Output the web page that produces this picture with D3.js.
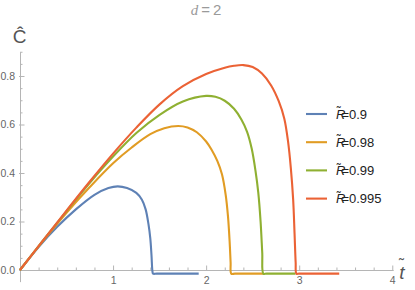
<!DOCTYPE html>
<html lang="en">
<head>
<meta charset="UTF-8">
<title>d=2</title>
<script src="https://cdn.jsdelivr.net/npm/d3@7"></script>
<style>
    body { margin: 0; background: #fff; }
    svg { display: block; font-family: "Liberation Sans", Arial, sans-serif; }
    .axis path, .axis line { stroke: #b5b5b5; }
    .axis text { fill: #666; font-size: 10.5px; }
</style>
</head>
<body>
<svg id="chart" width="415" height="290"></svg>
<script>
// series: t values and C values
let t09 = [0, 0.2, 0.4, 0.6, 0.8, 0.95, 1.05, 1.15, 1.25, 1.31, 1.35, 1.38, 1.4, 1.413, 1.423, 1.43, 1.47, 1.92];
let c09 = [0, 0.095, 0.178, 0.25, 0.31, 0.338, 0.345, 0.338, 0.318, 0.29, 0.25, 0.19, 0.13, 0.06, -0.005, -0.015, -0.015, -0.015];

let t098 = [0, 0.25, 0.5, 0.75, 1.0, 1.2, 1.4, 1.55, 1.7, 1.8, 1.9, 2.0, 2.06, 2.12, 2.17, 2.21, 2.235, 2.252, 2.263, 2.27, 2.31, 2.62];
let c098 = [0, 0.121, 0.236, 0.342, 0.44, 0.505, 0.56, 0.585, 0.594, 0.588, 0.568, 0.53, 0.495, 0.45, 0.395, 0.31, 0.22, 0.12, 0.03, -0.015, -0.015, -0.015];

let t099 = [0, 0.25, 0.5, 0.75, 1.0, 1.25, 1.5, 1.75, 2.0, 2.1, 2.2, 2.3, 2.38, 2.44, 2.49, 2.53, 2.56, 2.585, 2.603, 2.615, 2.65, 2.96];
let c099 = [0, 0.123, 0.243, 0.36, 0.468, 0.565, 0.64, 0.695, 0.718, 0.714, 0.698, 0.665, 0.62, 0.57, 0.5, 0.41, 0.32, 0.2, 0.07, -0.015, -0.015, -0.015];

let t0995 = [0, 0.25, 0.5, 0.75, 1.0, 1.25, 1.5, 1.75, 2.0, 2.2, 2.3, 2.4, 2.5, 2.6, 2.7, 2.78, 2.84, 2.88, 2.91, 2.935, 2.95, 2.962, 2.97, 3.0, 3.43];
let c0995 = [0, 0.123, 0.245, 0.365, 0.48, 0.587, 0.683, 0.758, 0.808, 0.834, 0.842, 0.845, 0.837, 0.81, 0.76, 0.696, 0.624, 0.53, 0.42, 0.29, 0.15, 0.03, -0.015, -0.015, -0.015];

let labels = ["0.9", "0.98", "0.99", "0.995"];
let colors = ["#5e81b5", "#e19c24", "#8fb032", "#eb6235"];
let xMajor = [1, 2, 3, 4];
let xMinor = [0.2, 0.4, 0.6, 0.8, 1.2, 1.4, 1.6, 1.8, 2.2, 2.4, 2.6, 2.8, 3.2, 3.4, 3.6, 3.8];
let yMajor = [0, 0.2, 0.4, 0.6, 0.8];
let yMinor = [0.05, 0.1, 0.15, 0.25, 0.3, 0.35, 0.45, 0.5, 0.55, 0.65, 0.7, 0.75, 0.85, 0.9];

let series = [
    {t: t09, c: c09},
    {t: t098, c: c098},
    {t: t099, c: c099},
    {t: t0995, c: c0995}
];

let svg = d3.select("#chart");

// 0 -> 20px, 1 unit = 93.07px ; C: 0 -> 270, 0.8 -> 76
let x = d3.scaleLinear().domain([0, 4.01]).range([20, 20 + 4.01 * 93.07]);
let y = d3.scaleLinear().domain([-0.048, 0.9]).range([270 + 0.048 * 242.5, 270 - 0.9 * 242.5]);

// axes (ticks point inward like the original)
svg.append("g").attr("class", "axis")
    .attr("transform", "translate(0," + y(0) + ")")
    .call(d3.axisBottom(x).tickValues(xMinor).tickSize(-2.5).tickSizeOuter(0).tickFormat(""))
    .select(".domain").remove();
svg.append("g").attr("class", "axis")
    .attr("transform", "translate(0," + y(0) + ")")
    .call(d3.axisBottom(x).tickValues(xMajor).tickSize(-4.5).tickSizeOuter(0).tickPadding(7).tickFormat(d3.format("d")));

svg.append("g").attr("class", "axis")
    .attr("transform", "translate(" + x(0) + ",0)")
    .call(d3.axisLeft(y).tickValues(yMinor).tickSize(-2.5).tickSizeOuter(0).tickFormat(""))
    .select(".domain").remove();
let yAx = svg.append("g").attr("class", "axis")
    .attr("transform", "translate(" + x(0) + ",0)")
    .call(d3.axisLeft(y).tickValues(yMajor).tickSize(-4.5).tickSizeOuter(0).tickPadding(5).tickFormat(d3.format(".1f")));
yAx.selectAll(".tick line").attr("x1", -1);
svg.selectAll(".axis .domain").attr("stroke", "#b5b5b5");
svg.selectAll(".axis text").attr("font-family", "Liberation Sans, Arial, sans-serif");

// curves
let line = d3.line()
    .x(d => x(d[0]))
    .y(d => y(d[1]))
    .curve(d3.curveCatmullRom.alpha(0.5));

series.forEach(function (s, i) {
    let pts = s.t.map((tv, k) => [tv, s.c[k]]);
    svg.append("path")
        .datum(pts)
        .attr("d", line)
        .attr("fill", "none")
        .attr("stroke", colors[i])
        .attr("stroke-width", 2.1)
        .attr("stroke-linejoin", "round");
});

// title
let title = svg.append("text")
    .attr("x", 206).attr("y", 15)
    .attr("text-anchor", "middle")
    .attr("fill", "#9a9a9a")
    .attr("font-size", 15);
title.append("tspan").attr("font-family", "Liberation Serif, serif").attr("font-style", "italic").text("d");
title.append("tspan").text("\u2009=\u20092");

// axis labels
svg.append("text")
    .attr("x", 19.5).attr("y", 43)
    .attr("text-anchor", "middle")
    .attr("fill", "#555")
    .attr("font-size", 19)
    .text("\u0108");

let tl = svg.append("text")
    .attr("x", 399).attr("y", 279)
    .attr("fill", "#555")
    .attr("font-size", 19);
tl.append("tspan").attr("font-style", "italic").text("t");
tl.append("tspan").attr("dx", -5.5).attr("dy", -10).attr("font-size", 15).text("\u02DC");

// legend
let leg = svg.append("g").selectAll("g")
    .data(labels)
    .enter().append("g")
    .attr("transform", (d, i) => "translate(306," + (114 + i * 28.2) + ")");

leg.append("line")
    .attr("x1", 0).attr("x2", 21)
    .attr("stroke", (d, i) => colors[i])
    .attr("stroke-width", 2.1);

let lt = leg.append("text")
    .attr("x", 30).attr("y", 4.7)
    .attr("fill", "#222")
    .attr("font-size", 13);
lt.append("tspan").attr("font-style", "italic").text("R");
lt.append("tspan").attr("dx", -8.6).attr("dy", -2.5).attr("font-size", 12).text("\u02DC");
lt.append("tspan").attr("dx", 0.6).attr("dy", 2.5).text(d => "=" + d);
</script>
</body>
</html>
